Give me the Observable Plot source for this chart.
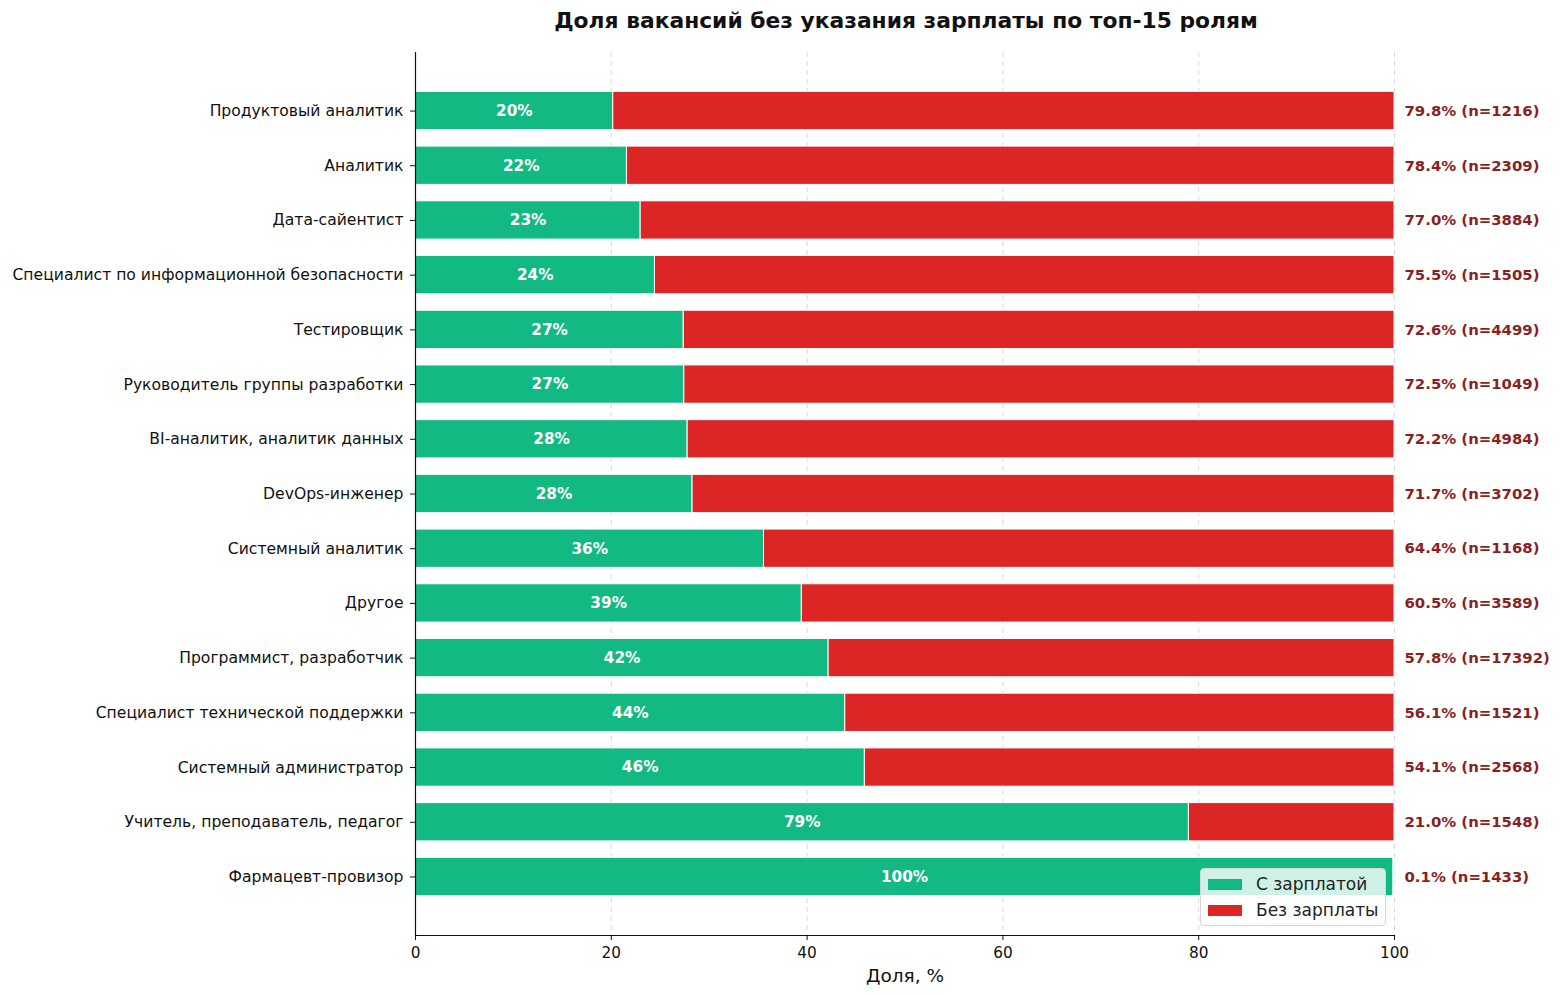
<!DOCTYPE html>
<html>
<head>
<meta charset="utf-8">
<script src="https://cdn.jsdelivr.net/npm/d3@7"></script>
<script src="https://cdn.jsdelivr.net/npm/@observablehq/plot@0.6"></script>
<style>
  html, body { margin: 0; padding: 0; background: #fff; }
  #wrap { position: relative; width: 1560px; height: 997px; font-family: "DejaVu Sans", sans-serif; }
  #title { position: absolute; left: 0; top: 0; width: 1560px; height: 40px; text-align: center; padding-left: 252px; box-sizing: border-box;
           font-weight: bold; font-size: 21.8px; line-height: 42px; color: #111; }
  #chart { position: absolute; left: 0; top: 40px; }
  #legend { position: absolute; left: 1200px; top: 868px; width: 186px; height: 58px; box-sizing: border-box;
            background: rgba(255,255,255,0.8); border: 1px solid #d6d6d6; border-radius: 4px; font-size: 17px; color: #222; }
  .li { position: absolute; left: 7px; display: flex; align-items: center; }
  .sw { width: 34px; height: 11px; margin-right: 14px; }
  g[aria-label="x-axis label"] text { font-size: 18.5px; }
  g[aria-label="y-axis tick label"] text { font-size: 15.6px; }
  g[aria-label="x-axis tick label"] text { font-size: 15.3px; }
</style>
</head>
<body>
<div id="wrap">
  <div id="title">Доля вакансий без указания зарплаты по топ-15 ролям</div>
  <div id="chart"></div>
  <div id="legend">
    <div class="li" style="top:5px"><div class="sw" style="background:#13b982"></div>С зарплатой</div>
    <div class="li" style="top:31px"><div class="sw" style="background:#dc2626"></div>Без зарплаты</div>
  </div>
</div>
<script>
const roles = [
  "Продуктовый аналитик",
  "Аналитик",
  "Дата-сайентист",
  "Специалист по информационной безопасности",
  "Тестировщик",
  "Руководитель группы разработки",
  "BI-аналитик, аналитик данных",
  "DevOps-инженер",
  "Системный аналитик",
  "Другое",
  "Программист, разработчик",
  "Специалист технической поддержки",
  "Системный администратор",
  "Учитель, преподаватель, педагог",
  "Фармацевт-провизор"
];
// share of vacancies without salary, %
const noSalaryPct = [79.8, 78.4, 77.0, 75.54, 72.6, 72.54, 72.2, 71.7, 64.4, 60.54, 57.8, 56.1, 54.1, 21.0, 0.1];
const counts = [1216, 2309, 3884, 1505, 4499, 1049, 4984, 3702, 1168, 3589, 17392, 1521, 2568, 1548, 1433];
const xTicks = [0, 20, 40, 60, 80, 100];

const GREEN = "#13b982", RED = "#dc2626", LABEL = "#8b1f1f";

const rows = roles.map((r, i) => ({
  role: r,
  no: noSalaryPct[i],
  yes: 100 - noSalaryPct[i],
  n: counts[i]
}));

const segs = rows.flatMap(d => [
  {role: d.role, x1: 0, x2: d.yes, fill: GREEN},
  {role: d.role, x1: d.yes, x2: 100, fill: RED}
]);

const chart = Plot.plot({
  width: 1560,
  height: 957,
  marginLeft: 415,
  marginRight: 166,
  marginTop: 12,
  marginBottom: 62,
  style: {fontFamily: "DejaVu Sans, sans-serif", fontSize: "15px", color: "#111", background: "transparent"},
  x: {domain: [0, 100], ticks: xTicks, label: "Доля, %"},
  y: {domain: roles, paddingInner: 0.3, paddingOuter: 0.72, round: false, label: null},
  marks: [
    Plot.gridX(xTicks, {stroke: "#cfcfcf", strokeOpacity: 1, strokeDasharray: "5,4", strokeWidth: 0.8}),
    Plot.barX(segs, {y: "role", x1: "x1", x2: "x2", fill: d => d.fill, stroke: "white", strokeWidth: 1, insetTop: 0, insetBottom: 0, insetLeft: 0, insetRight: 0}),
    Plot.text(rows, {y: "role", x: d => d.yes / 2, text: d => `${Math.round(d.yes)}%`, fill: "white", fontWeight: "bold", fontSize: 15.3}),
    Plot.text(rows, {y: "role", x: 100, dx: 10, text: d => `${d.no.toFixed(1)}% (n=${d.n})`, textAnchor: "start", fill: LABEL, fontWeight: "bold", fontSize: 14.9}),
    Plot.frame({anchor: "left", stroke: "#111", strokeWidth: 1.2}),
    Plot.frame({anchor: "bottom", stroke: "#111", strokeWidth: 1.2}),
    Plot.axisX({ticks: xTicks, tickSize: 5, tickPadding: 7, fontSize: 15.3, label: "Доля, %", labelAnchor: "center", labelArrow: "none", labelOffset: 46}),
    Plot.axisY({tickSize: 5, tickPadding: 7, fontSize: 15.6, label: null})
  ]
});
document.getElementById("chart").appendChild(chart);
</script>
</body>
</html>
